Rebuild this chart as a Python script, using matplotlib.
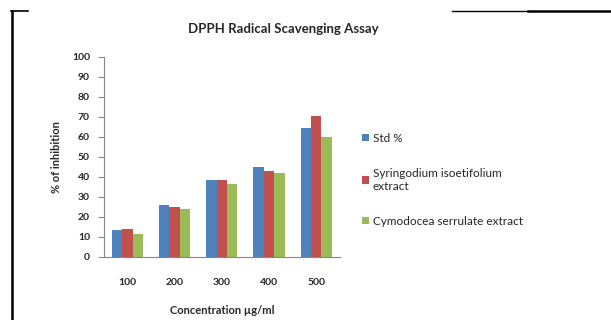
import numpy as np
import matplotlib.pyplot as plt
from matplotlib.lines import Line2D

# DPPH assay results, % inhibition per concentration
concentrations = ['100', '200', '300', '400', '500']
std_pct = [13.5, 26, 38.3, 44.8, 64.7]
syringodium = [14, 25.2, 38.3, 43, 70.3]
cymodocea = [11.5, 24, 36.5, 42.2, 60]
series_names = ['Std %', 'Syringodium isoetifolium\nextract', 'Cymodocea serrulate extract']

colors = ['#4F81BD', '#C0504D', '#9BBB59']
txt_col = '#262626'

plt.rcParams['font.family'] = ['Lato', 'DejaVu Sans']

fig = plt.figure(figsize=(6.11, 3.2), dpi=100)
ax = fig.add_axes([0.170, 0.197, 0.386, 0.625])

x = np.arange(len(concentrations))
w = 0.22
for k, vals in enumerate([std_pct, syringodium, cymodocea]):
    ax.bar(x + (k - 1) * w, vals, width=w, color=colors[k], label=series_names[k])

ax.set_xlim(-0.5, len(concentrations) - 0.5)
ax.set_ylim(0, 100)
ax.set_yticks(np.arange(0, 101, 10))
ax.set_xticks(x)
ax.set_xticklabels(concentrations)
for s in ['top', 'right']:
    ax.spines[s].set_visible(False)
for s in ['left', 'bottom']:
    ax.spines[s].set_color('#868686')
    ax.spines[s].set_linewidth(0.8)
ax.tick_params(axis='y', length=4, width=0.8, color='#868686', labelsize=7.5,
               labelcolor=txt_col, pad=6)
ax.tick_params(axis='x', length=0, labelsize=7.5, labelcolor=txt_col, pad=15)
for lab in ax.get_xticklabels() + ax.get_yticklabels():
    lab.set_fontweight('bold')

ax.set_ylabel('% of inhibition', fontsize=8, fontweight='bold', color=txt_col, labelpad=7)
ax.set_xlabel('Concentration µg/ml', fontsize=8, fontweight='bold', color=txt_col, labelpad=13)
fig.text(0.463, 0.908, 'DPPH Radical Scavenging Assay', ha='center', va='center',
         fontsize=9.5, fontweight='bold', color=txt_col)

leg = ax.legend(loc='upper left', bbox_to_anchor=(1.075, 0.645), frameon=False,
                fontsize=8.5, handlelength=0.6, handleheight=0.6, handletextpad=0.3,
                labelspacing=2.05, borderaxespad=0)
for t in leg.get_texts():
    t.set_color(txt_col)

# partial black frame around the chart
fig.add_artist(Line2D([0.019, 0.019], [0.0, 0.967], color='black', lw=1.8))
fig.add_artist(Line2D([0.018, 0.046], [0.967, 0.967], color='black', lw=1.2))
fig.add_artist(Line2D([0.740, 0.866], [0.966, 0.966], color='black', lw=1.0))
fig.add_artist(Line2D([0.864, 1.0], [0.966, 0.966], color='black', lw=1.8))

fig.savefig('out.png', dpi=100)
